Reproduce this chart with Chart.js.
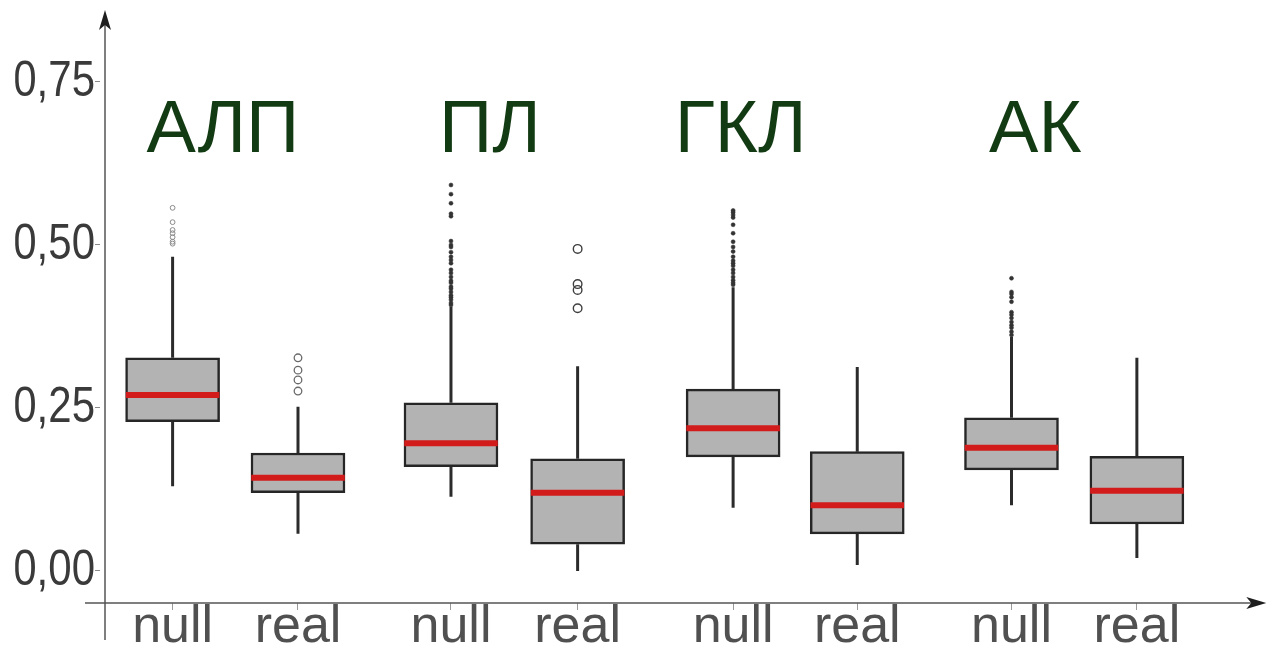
<!DOCTYPE html>
<html>
<head>
<meta charset="utf-8">
<script src="https://cdn.jsdelivr.net/npm/chart.js@4/dist/chart.umd.min.js"></script>
<style>
  html, body { margin: 0; padding: 0; background: #ffffff; }
  #wrap { width: 1277px; height: 653px; }
</style>
</head>
<body>
<div id="wrap"><canvas id="c" width="1277" height="653"></canvas></div>
<script>
// Groups and the two distributions shown for each of them
const groups = ['АЛП', 'ПЛ', 'ГКЛ', 'АК'];
const boxLabels = ['null', 'real', 'null', 'real', 'null', 'real', 'null', 'real'];
const boxPos = [0, 1, 2.22, 3.23, 4.47, 5.46, 6.69, 7.69];

// Box statistics, one entry per box
const whiskerLow  = [0.130, 0.057, 0.114, 0.000, 0.097, 0.009, 0.101, 0.020];
const q1          = [0.229, 0.120, 0.160, 0.041, 0.175, 0.057, 0.155, 0.072];
const median      = [0.270, 0.143, 0.196, 0.120, 0.219, 0.101, 0.189, 0.123];
const q3          = [0.327, 0.181, 0.258, 0.172, 0.279, 0.183, 0.235, 0.176];
const whiskerHigh = [0.482, 0.252, 0.405, 0.314, 0.435, 0.313, 0.359, 0.327];

// Outlying observations per box
const outliers = [
  [0.557, 0.535, 0.523, 0.518, 0.512, 0.505, 0.502],
  [0.327, 0.308, 0.293, 0.276],
  [0.592, 0.578, 0.564, 0.548, 0.544, 0.506, 0.500, 0.497, 0.489, 0.482, 0.477, 0.472,
   0.462, 0.457, 0.451, 0.445, 0.442, 0.436, 0.433, 0.428, 0.423, 0.420, 0.416, 0.411, 0.408],
  [0.494, 0.440, 0.431, 0.403],
  [0.553, 0.550, 0.546, 0.542, 0.531, 0.518, 0.505, 0.497, 0.490, 0.482, 0.476, 0.472,
   0.468, 0.462, 0.457, 0.451, 0.446, 0.442, 0.439],
  [],
  [0.449, 0.428, 0.425, 0.420, 0.413, 0.397, 0.393, 0.388, 0.382, 0.377, 0.373, 0.367, 0.362],
  []
];

const yTicks = [0, 0.25, 0.5, 0.75];
const yTickLabels = ['0,00', '0,25', '0,50', '0,75'];

// ---- drawing setup ----
const BOX_HALF = 0.373;            // half box width in x units
const outlierStyles = [
  { radius: 2.4, fill: 'rgba(0,0,0,0)', stroke: '#8a8a8a', width: 1 },
  { radius: 3.8, fill: 'rgba(0,0,0,0)', stroke: '#6a6a6a', width: 1.3 },
  { radius: 2.0, fill: '#333333', stroke: '#333333', width: 0.5 },
  { radius: 4.3, fill: 'rgba(0,0,0,0)', stroke: '#3f3f3f', width: 1.4 },
  { radius: 2.0, fill: '#333333', stroke: '#333333', width: 0.5 },
  { radius: 2.0, fill: '#333333', stroke: '#333333', width: 0.5 },
  { radius: 2.0, fill: '#333333', stroke: '#333333', width: 0.5 },
  { radius: 2.0, fill: '#333333', stroke: '#333333', width: 0.5 }
];

const whiskerPoints = [];
const medianPoints = [];
boxPos.forEach((p, i) => {
  whiskerPoints.push({ x: p, y: whiskerLow[i] }, { x: p, y: q1[i] }, { x: p, y: null });
  whiskerPoints.push({ x: p, y: q3[i] }, { x: p, y: whiskerHigh[i] }, { x: p, y: null });
  medianPoints.push({ x: p - BOX_HALF, y: median[i] }, { x: p + BOX_HALF, y: median[i] }, { x: p, y: null });
});

const datasets = [
  {
    type: 'line', label: 'whiskers', data: whiskerPoints, order: 4,
    borderColor: '#2b2b2b', borderWidth: 3, pointRadius: 0, spanGaps: false, fill: false
  },
  {
    type: 'bar', label: 'boxes', order: 3,
    data: boxPos.map((p, i) => ({ x: p, y: [q1[i], q3[i]] })),
    backgroundColor: '#b3b3b3', borderColor: '#262626', borderWidth: 2.5,
    borderSkipped: false, barThickness: 94
  },
  {
    type: 'line', label: 'medians', data: medianPoints, order: 2,
    borderColor: '#d21c1c', borderWidth: 6, pointRadius: 0, spanGaps: false, fill: false,
    borderCapStyle: 'butt'
  }
];
outliers.forEach((vals, i) => {
  if (!vals.length) return;
  const st = outlierStyles[i];
  datasets.push({
    type: 'line', label: 'outliers ' + i, order: 1, showLine: false,
    data: vals.map(v => ({ x: boxPos[i], y: v })),
    pointRadius: st.radius, pointBackgroundColor: st.fill,
    pointBorderColor: st.stroke, pointBorderWidth: st.width, pointStyle: 'circle'
  });
});

// Condensed value labels: squeeze the y tick text horizontally around its right edge
const narrowTicksPlugin = {
  id: 'narrowTicks',
  afterUpdate(chart) {
    const s = chart.scales.y;
    if (!s || s._narrowed) return;
    const orig = s.drawLabels.bind(s);
    s.drawLabels = function (area) {
      const ctx = this.ctx;
      const anchor = chart.chartArea.left - 5;
      ctx.save();
      ctx.translate(anchor, 0);
      ctx.scale(0.84, 1);
      ctx.translate(-anchor, 0);
      orig(area);
      ctx.restore();
    };
    s._narrowed = true;
  }
};

// Hand-style axes with arrow heads plus the group captions
const decorPlugin = {
  id: 'decor',
  afterDraw(chart, args, opts) {
    const { ctx, chartArea: a, scales: { x, y } } = chart;
    ctx.save();
    ctx.strokeStyle = '#555555';
    ctx.fillStyle = '#1e1e1e';
    ctx.lineWidth = 1.5;
    // vertical axis
    const ax = a.left + 5;
    ctx.beginPath();
    ctx.moveTo(ax, a.top + 14);
    ctx.lineTo(ax, a.bottom + 37);
    ctx.stroke();
    ctx.beginPath();
    ctx.moveTo(ax, a.top);
    ctx.lineTo(ax - 6, a.top + 20);
    ctx.lineTo(ax, a.top + 15);
    ctx.lineTo(ax + 6, a.top + 20);
    ctx.closePath();
    ctx.fill();
    // horizontal axis
    const ay = a.bottom;
    const tip = a.right - 5;
    ctx.beginPath();
    ctx.moveTo(a.left - 15, ay);
    ctx.lineTo(tip - 12, ay);
    ctx.stroke();
    ctx.beginPath();
    ctx.moveTo(tip, ay);
    ctx.lineTo(tip - 20, ay - 6);
    ctx.lineTo(tip - 15, ay);
    ctx.lineTo(tip - 20, ay + 6);
    ctx.closePath();
    ctx.fill();
    // group captions
    ctx.font = opts.font;
    ctx.fillStyle = opts.color;
    ctx.textAlign = 'center';
    ctx.textBaseline = 'alphabetic';
    groups.forEach((g, i) => {
      ctx.fillText(g, x.getPixelForValue(opts.positions[i]), y.getPixelForValue(opts.baseline));
    });
    ctx.restore();
  }
};

new Chart(document.getElementById('c'), {
  type: 'bar',
  data: { datasets },
  plugins: [narrowTicksPlugin, decorPlugin],
  options: {
    responsive: false,
    animation: false,
    layout: { padding: { top: 10, right: 0, bottom: 0, left: 0 } },
    plugins: {
      legend: { display: false },
      tooltip: { enabled: false },
      decor: {
        font: '74px "Liberation Sans", Arial, sans-serif',
        color: '#133b13',
        positions: [0.40, 2.53, 4.53, 6.88],
        baseline: 0.6426
      }
    },
    scales: {
      x: {
        type: 'linear',
        offset: false,
        min: -0.579,
        max: 8.762,
        afterFit: s => { s.height = 50; s.paddingLeft = 0; s.paddingRight = 0; },
        afterBuildTicks: s => { s.ticks = boxPos.map(v => ({ value: v })); },
        border: { display: false },
        grid: { offset: false, drawOnChartArea: false, tickLength: 7, color: '#9a9a9a', lineWidth: 1 },
        ticks: {
          autoSkip: false,
          maxRotation: 0,
          padding: -14,
          color: '#505050',
          font: { family: '"Liberation Sans", Arial, sans-serif', size: 52 },
          callback: (v, i) => boxLabels[i]
        }
      },
      y: {
        type: 'linear',
        min: -0.0491,
        max: 0.8604,
        afterFit: s => { s.width = 100; s.paddingTop = 0; s.paddingBottom = 0; },
        afterBuildTicks: s => { s.ticks = yTicks.map(v => ({ value: v })); },
        border: { display: false },
        grid: { drawOnChartArea: false, tickLength: 5, color: '#8a8a8a', lineWidth: 1 },
        ticks: {
          padding: 0,
          color: '#3a3a3a',
          font: { family: '"Liberation Sans", Arial, sans-serif', size: 50 },
          callback: (v, i) => yTickLabels[i]
        }
      }
    }
  }
});
</script>
</body>
</html>
